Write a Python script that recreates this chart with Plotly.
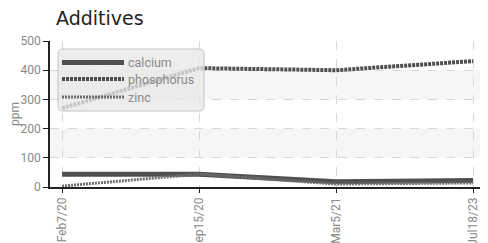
import plotly.graph_objects as go

dates = ["Feb7/20", "Sep15/20", "Mar5/21", "Jul18/23"]
calcium = [44, 44, 18, 22]
phosphorus = [270, 407, 400, 431]
zinc = [3, 44, 10, 14]
y_ticks = [0, 100, 200, 300, 400, 500]
series_names = ["calcium", "phosphorus", "zinc"]

styles = [
    dict(color="#505050", width=5),
    dict(color="#4e4e4e", width=4, dash="3px,1px"),
    dict(color="#6e6e6e", width=3, dash="2px,1px"),
]

fig = go.Figure()
for name, vals, st in zip(series_names, [calcium, phosphorus, zinc], styles):
    fig.add_trace(go.Scatter(x=dates, y=vals, name=name, mode="lines", line=st,
                             showlegend=False))

# alternating bands
for lo, hi in [(100, 200), (300, 400)]:
    fig.add_shape(type="rect", xref="paper", yref="y", x0=0, x1=1, y0=lo, y1=hi,
                  fillcolor="#f6f6f6", line_width=0, layer="below")

# page offset of the figure (browser body margin)
OFF = 8
# plot area in page pixels: x 50..480, y 41..187
L, R, T, B = 50, 480, 41, 187
def px(x):
    return (x - L) / (R - L)
def py(y):
    return (B - y) / (B - T)

# legend box (rounded)
bx0, bx1, by0, by1, r = 58, 204, 49, 111, 5
path = (f"M{px(bx0 + r)},{py(by0)} L{px(bx1 - r)},{py(by0)} "
        f"Q{px(bx1)},{py(by0)} {px(bx1)},{py(by0 + r)} "
        f"L{px(bx1)},{py(by1 - r)} Q{px(bx1)},{py(by1)} {px(bx1 - r)},{py(by1)} "
        f"L{px(bx0 + r)},{py(by1)} Q{px(bx0)},{py(by1)} {px(bx0)},{py(by1 - r)} "
        f"L{px(bx0)},{py(by0 + r)} Q{px(bx0)},{py(by0)} {px(bx0 + r)},{py(by0)} Z")
fig.add_shape(type="path", xref="paper", yref="paper", path=path,
              fillcolor="rgba(232,232,232,0.78)", line=dict(color="#c4c4c4", width=1),
              layer="above")

font = "Roboto, sans-serif"
for name, st, yy in zip(series_names, styles, [62.5, 79, 97]):
    fig.add_shape(type="line", xref="paper", yref="paper",
                  x0=px(62), x1=px(124), y0=py(yy), y1=py(yy),
                  line=st, layer="above")
    fig.add_annotation(x=px(126), y=py(yy), xref="paper", yref="paper",
                       text=name, showarrow=False, xanchor="left", yanchor="middle",
                       font=dict(family=font, size=12.5, color="#8a8a8a"))

W, H = 488 - OFF, 243 - OFF
fig.update_layout(
    width=W, height=H,
    margin=dict(l=L - OFF, r=W - (R - OFF), t=T - OFF, b=H - (B - OFF), autoexpand=False),
    paper_bgcolor="white", plot_bgcolor="white",
    title=dict(text="Additives", x=(56 - OFF) / W, xanchor="left",
               y=1 - (18.5 - OFF) / H, yanchor="middle",
               font=dict(family="DejaVu Sans, sans-serif", size=19, color="#222")),
    showlegend=False,
    font=dict(family=font, size=12, color="#888"),
)
fig.update_xaxes(type="category", range=[-0.088, 3.05], automargin=False,
                 showline=True, linecolor="#222", linewidth=1.5,
                 ticks="outside", ticklen=4, tickcolor="#222",
                 tickangle=-90, showgrid=True, gridcolor="#d8d8d8", griddash="dash",
                 tickfont=dict(family=font, size=12, color="#888"))
fig.update_yaxes(range=[0, 500], tickvals=y_ticks, automargin=False,
                 showline=True, linecolor="#222", linewidth=1.5,
                 ticks="outside", ticklen=5, tickcolor="#222",
                 showgrid=True, gridcolor="#d8d8d8", griddash="dash", zeroline=False,
                 title=dict(text="ppm", font=dict(family=font, size=12, color="#888"), standoff=6),
                 tickfont=dict(family=font, size=12, color="#888"))

fig.write_html("out.html")
